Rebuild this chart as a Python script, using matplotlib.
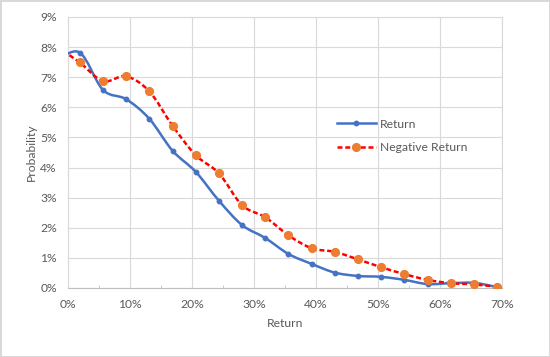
import numpy as np
import matplotlib
matplotlib.use('Agg')
import matplotlib.pyplot as plt
from matplotlib.path import Path
from matplotlib.patches import PathPatch
from matplotlib.lines import Line2D
from matplotlib.ticker import FuncFormatter, MultipleLocator

# data (return in %, probability in %)
returns = [-1.84, 1.90, 5.64, 9.38, 13.12, 16.86, 20.60, 24.34, 28.08, 31.82,
           35.56, 39.30, 43.04, 46.78, 50.52, 54.26, 58.00, 61.74, 65.48, 69.22]
prob_return = [7.55, 7.82, 6.58, 6.27, 5.62, 4.56, 3.86, 2.90, 2.09, 1.66,
               1.13, 0.80, 0.51, 0.40, 0.37, 0.27, 0.13, 0.16, 0.17, 0.03]
prob_negative = [8.02, 7.49, 6.87, 7.03, 6.53, 5.39, 4.41, 3.81, 2.75, 2.35,
                 1.75, 1.32, 1.20, 0.95, 0.69, 0.46, 0.27, 0.16, 0.12, 0.04]

grid_col = '#d9d9d9'
text_col = '#595959'
blue = '#4472c4'
orange = '#ed7d31'
red = '#ff0000'
dash = (0, (2.0, 1.1))
fs = 8.7

plt.rcParams['font.family'] = ['Lato', 'DejaVu Sans']


def smooth_path(x, y):
	# Excel-style smoothed line: Catmull-Rom segments as cubic Bezier curves
	x = np.asarray(x, float)
	y = np.asarray(y, float)
	pts = np.column_stack([x, y])
	n = len(pts)
	verts = [pts[0]]
	codes = [Path.MOVETO]
	for i in range(n - 1):
		p0 = pts[i - 1] if i > 0 else pts[i]
		p1 = pts[i]
		p2 = pts[i + 1]
		p3 = pts[i + 2] if i + 2 < n else pts[i + 1]
		c1 = p1 + (p2 - p0) / 6.0
		c2 = p2 - (p3 - p1) / 6.0
		verts += [c1, c2, p2]
		codes += [Path.CURVE4] * 3
	return Path(verts, codes)


fig = plt.figure(figsize=(5.5, 3.57), dpi=100, edgecolor=grid_col, linewidth=1.0)
ax = fig.add_axes([0.1236, 0.1933, 0.7891, 0.7591])

ax.add_patch(PathPatch(smooth_path(returns, prob_return), facecolor='none',
					   edgecolor=blue, linewidth=1.8, zorder=3))
ax.plot(returns, prob_return, linestyle='none', marker='o', markersize=3.2,
		color=blue, zorder=4)

ax.add_patch(PathPatch(smooth_path(returns, prob_negative), facecolor='none',
					   edgecolor=red, linewidth=1.8, linestyle=dash, zorder=5))
ax.plot(returns, prob_negative, linestyle='none', marker='o', markersize=5.6,
		color=orange, zorder=6)

ax.set_xlim(0, 70)
ax.set_ylim(0, 9)
ax.xaxis.set_major_locator(MultipleLocator(10))
ax.xaxis.set_minor_locator(MultipleLocator(5))
ax.yaxis.set_major_locator(MultipleLocator(1))
ax.xaxis.set_major_formatter(FuncFormatter(lambda v, p: '%d%%' % round(v)))
ax.yaxis.set_major_formatter(FuncFormatter(lambda v, p: '%d%%' % round(v)))

ax.grid(True, which='major', color=grid_col, linewidth=0.8)
ax.set_axisbelow(True)
for s in ax.spines.values():
	s.set_color(grid_col)
	s.set_linewidth(0.8)
ax.spines['bottom'].set_color('#bfbfbf')

ax.tick_params(axis='both', which='major', length=0, labelsize=fs, labelcolor=text_col)
ax.tick_params(axis='x', which='major', pad=8)
ax.tick_params(axis='y', which='major', pad=8)
ax.tick_params(axis='x', which='minor', direction='in', length=2.5, color='#bfbfbf')
ax.tick_params(axis='y', which='minor', length=0)

ax.set_xlabel('Return', fontsize=fs, color=text_col, labelpad=6)
ax.set_ylabel('Probability', fontsize=fs, color=text_col, labelpad=2)

handles = [Line2D([], [], color=blue, linewidth=1.8, marker='o', markersize=3.2),
		   Line2D([], [], color=red, linewidth=1.8, linestyle=dash,
				  marker='o', markersize=5.6, markerfacecolor=orange, markeredgecolor=orange)]
leg = ax.legend(handles, ['Return', 'Negative Return'], frameon=False, fontsize=fs,
				loc='upper left', bbox_to_anchor=(0.595, 0.665), handlelength=3.2,
				labelspacing=1.0, handletextpad=0.35)
for t in leg.get_texts():
	t.set_color(text_col)

fig.savefig('out.png', dpi=100)
